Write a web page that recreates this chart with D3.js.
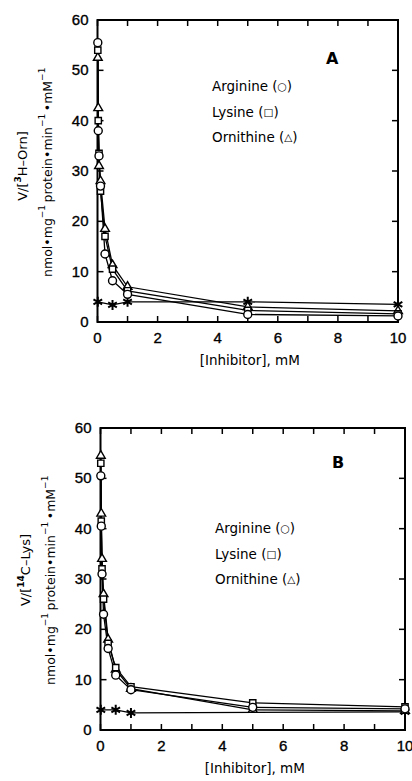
<!DOCTYPE html>
<html>
<head>
<meta charset="utf-8">
<script src="https://cdn.jsdelivr.net/npm/d3@7"></script>
<style>
  body { margin: 0; background: #fff; }
  svg text { font-family: "DejaVu Sans", "Liberation Sans", sans-serif; fill: #000; }
  svg text.tick { font-family: "Liberation Sans", Arial, sans-serif; stroke: #000; stroke-width: 0.35; }
</style>
</head>
<body>
<svg id="chart" width="412" height="781"></svg>
<script>
// inhibitor concentrations (mM)
const conc = [0.01, 0.025, 0.05, 0.1, 0.25, 0.5, 1, 5, 10];

// panel A: V/[3H-Orn]
const argA = [55.5, 38, 33, 27, 13.5, 8.2, 5.5, 1.5, 1.2];
const lysA = [54, 40, 33.5, 26, 17, 10.5, 6.2, 2.3, 1.6];
const ornA = [52.5, 42.5, 31, 28, 18.5, 11.3, 7.0, 3.0, 2.2];
const ctrlConcA = [0.01, 0.5, 1, 5, 10];
const ctrlA = [4.0, 3.4, 4.0, 4.0, 3.5];

// panel B: V/[14C-Lys]
const argB = [50.5, 40.5, 31, 23, 16.2, 10.9, 8.0, 4.5, 4.2];
const lysB = [53, 41.5, 32, 26, 17.2, 12.4, 8.6, 5.4, 4.6];
const ornB = [54.5, 43, 34, 27, 18, 12, 8.2, 4.0, 3.8];
const ctrlConcB = [0.01, 0.5, 1, 10];
const ctrlB = [4.0, 4.0, 3.4, 3.6];

const xTicks = [0, 2, 4, 6, 8, 10];
const yTicks = [0, 10, 20, 30, 40, 50, 60];
const legendNames = ["Arginine", "Lysine", "Ornithine"];
const legendMarks = ["\u25CB", "\u25A1", "\u25B3"];

const svg = d3.select("#chart");

let drawPanel = (p) => {
    const x = d3.scaleLinear().domain([0, 10]).range([p.left, p.right]);
    const y = d3.scaleLinear().domain([0, 60]).range([p.bottom, p.top]);
    const g = svg.append("g");

    // frame
    g.append("rect")
        .attr("x", p.left).attr("y", p.top)
        .attr("width", p.right - p.left).attr("height", p.bottom - p.top)
        .attr("fill", "none").attr("stroke", "#000").attr("stroke-width", 2);

    // inward ticks on all sides
    const tk = 6;
    d3.range(0, 11).forEach(v => {
        g.append("line").attr("x1", x(v)).attr("x2", x(v))
            .attr("y1", p.bottom).attr("y2", p.bottom - tk)
            .attr("stroke", "#000").attr("stroke-width", 1.5);
        g.append("line").attr("x1", x(v)).attr("x2", x(v))
            .attr("y1", p.top).attr("y2", p.top + tk)
            .attr("stroke", "#000").attr("stroke-width", 1.5);
    });
    yTicks.forEach(v => {
        g.append("line").attr("x1", p.left).attr("x2", p.left + tk)
            .attr("y1", y(v)).attr("y2", y(v))
            .attr("stroke", "#000").attr("stroke-width", 1.5);
        g.append("line").attr("x1", p.right).attr("x2", p.right - tk)
            .attr("y1", y(v)).attr("y2", y(v))
            .attr("stroke", "#000").attr("stroke-width", 1.5);
    });

    // tick labels
    g.selectAll(".xl").data(xTicks).enter().append("text")
        .attr("class", "tick")
        .attr("x", d => x(d)).attr("y", p.bottom + 21)
        .attr("text-anchor", "middle").attr("font-size", 15)
        .text(d => d);
    g.selectAll(".yl").data(yTicks).enter().append("text")
        .attr("class", "tick")
        .attr("x", p.left - 9).attr("y", d => y(d) + 5)
        .attr("text-anchor", "end").attr("font-size", 15)
        .text(d => d);

    // x axis title
    g.append("text")
        .attr("x", (p.left + p.right) / 2 + 2).attr("y", p.bottom + 43)
        .attr("text-anchor", "middle").attr("font-size", 13.5)
        .text("[Inhibitor], mM");

    // y axis titles (two lines, rotated)
    const t1 = g.append("text")
        .attr("transform", `translate(${p.left - 71},${p.label1Y}) rotate(-90)`)
        .attr("text-anchor", "middle").attr("font-size", 13);
    t1.append("tspan").text("V/[");
    t1.append("tspan").attr("dy", -6).attr("font-size", 9).attr("font-weight", "bold").text(p.isotope);
    t1.append("tspan").attr("dy", 6).text(p.substrate + "]");

    const t2 = g.append("text")
        .attr("transform", `translate(${p.left - 46},${(p.top + p.bottom) / 2}) rotate(-90)`)
        .attr("text-anchor", "middle").attr("font-size", 12.5);
    [["nmol\u2022mg", "\u22121"], ["protein\u2022min", "\u22121"], ["\u2022mM", "\u22121"]].forEach(part => {
        t2.append("tspan").text(part[0]);
        t2.append("tspan").attr("dy", -7).attr("font-size", 9).text(part[1]);
        t2.append("tspan").attr("dy", 7).text("\u2009");
    });

    // panel letter
    g.append("text")
        .attr("x", p.letterX).attr("y", p.letterY)
        .attr("font-size", 16).attr("font-weight", "bold")
        .text(p.letter);

    // legend
    const leg = g.selectAll(".leg").data(legendNames).enter().append("text")
        .attr("x", p.legX).attr("y", (d, i) => p.legY + i * 25.5)
        .attr("font-size", 13.5);
    leg.append("tspan").text(d => d + " (");
    leg.append("tspan").attr("font-size", 10.5).attr("dy", -1).text((d, i) => legendMarks[i]);
    leg.append("tspan").attr("dy", 1).text(")");

    // lines
    const line = d3.line().x(d => x(d[0])).y(d => y(d[1]));
    const series = [
        {xs: p.ctrlConc, ys: p.ctrl, sym: d3.symbolAsterisk, size: 70, fill: "none", sw: 2},
        {xs: conc, ys: p.orn, sym: d3.symbolTriangle2, size: 55, fill: "#fff", sw: 1.4},
        {xs: conc, ys: p.lys, sym: d3.symbolSquare2, size: 50, fill: "#fff", sw: 1.4},
        {xs: conc, ys: p.arg, sym: d3.symbolCircle, size: 50, fill: "#fff", sw: 1.4}
    ];
    series.forEach(s => {
        const pts = s.xs.map((v, i) => [v, s.ys[i]]);
        g.append("path").datum(pts).attr("d", line)
            .attr("fill", "none").attr("stroke", "#000").attr("stroke-width", 1.3);
    });
    series.forEach(s => {
        const pts = s.xs.map((v, i) => [v, s.ys[i]]);
        g.selectAll(null).data(pts).enter().append("path")
            .attr("transform", d => `translate(${x(d[0])},${y(d[1])})`)
            .attr("d", d3.symbol(s.sym, s.size))
            .attr("fill", s.fill).attr("stroke", "#000").attr("stroke-width", s.sw);
    });
};

drawPanel({
    left: 97.5, right: 398, top: 20, bottom: 322,
    isotope: "3", substrate: "H\u2013Orn", label1Y: 166,
    letter: "A", letterX: 326, letterY: 64,
    legX: 212, legY: 91,
    arg: argA, lys: lysA, orn: ornA, ctrlConc: ctrlConcA, ctrl: ctrlA
});

drawPanel({
    left: 100.5, right: 405, top: 428, bottom: 730,
    isotope: "14", substrate: "C\u2013Lys", label1Y: 570,
    letter: "B", letterX: 332, letterY: 468,
    legX: 215, legY: 533,
    arg: argB, lys: lysB, orn: ornB, ctrlConc: ctrlConcB, ctrl: ctrlB
});
</script>
</body>
</html>
